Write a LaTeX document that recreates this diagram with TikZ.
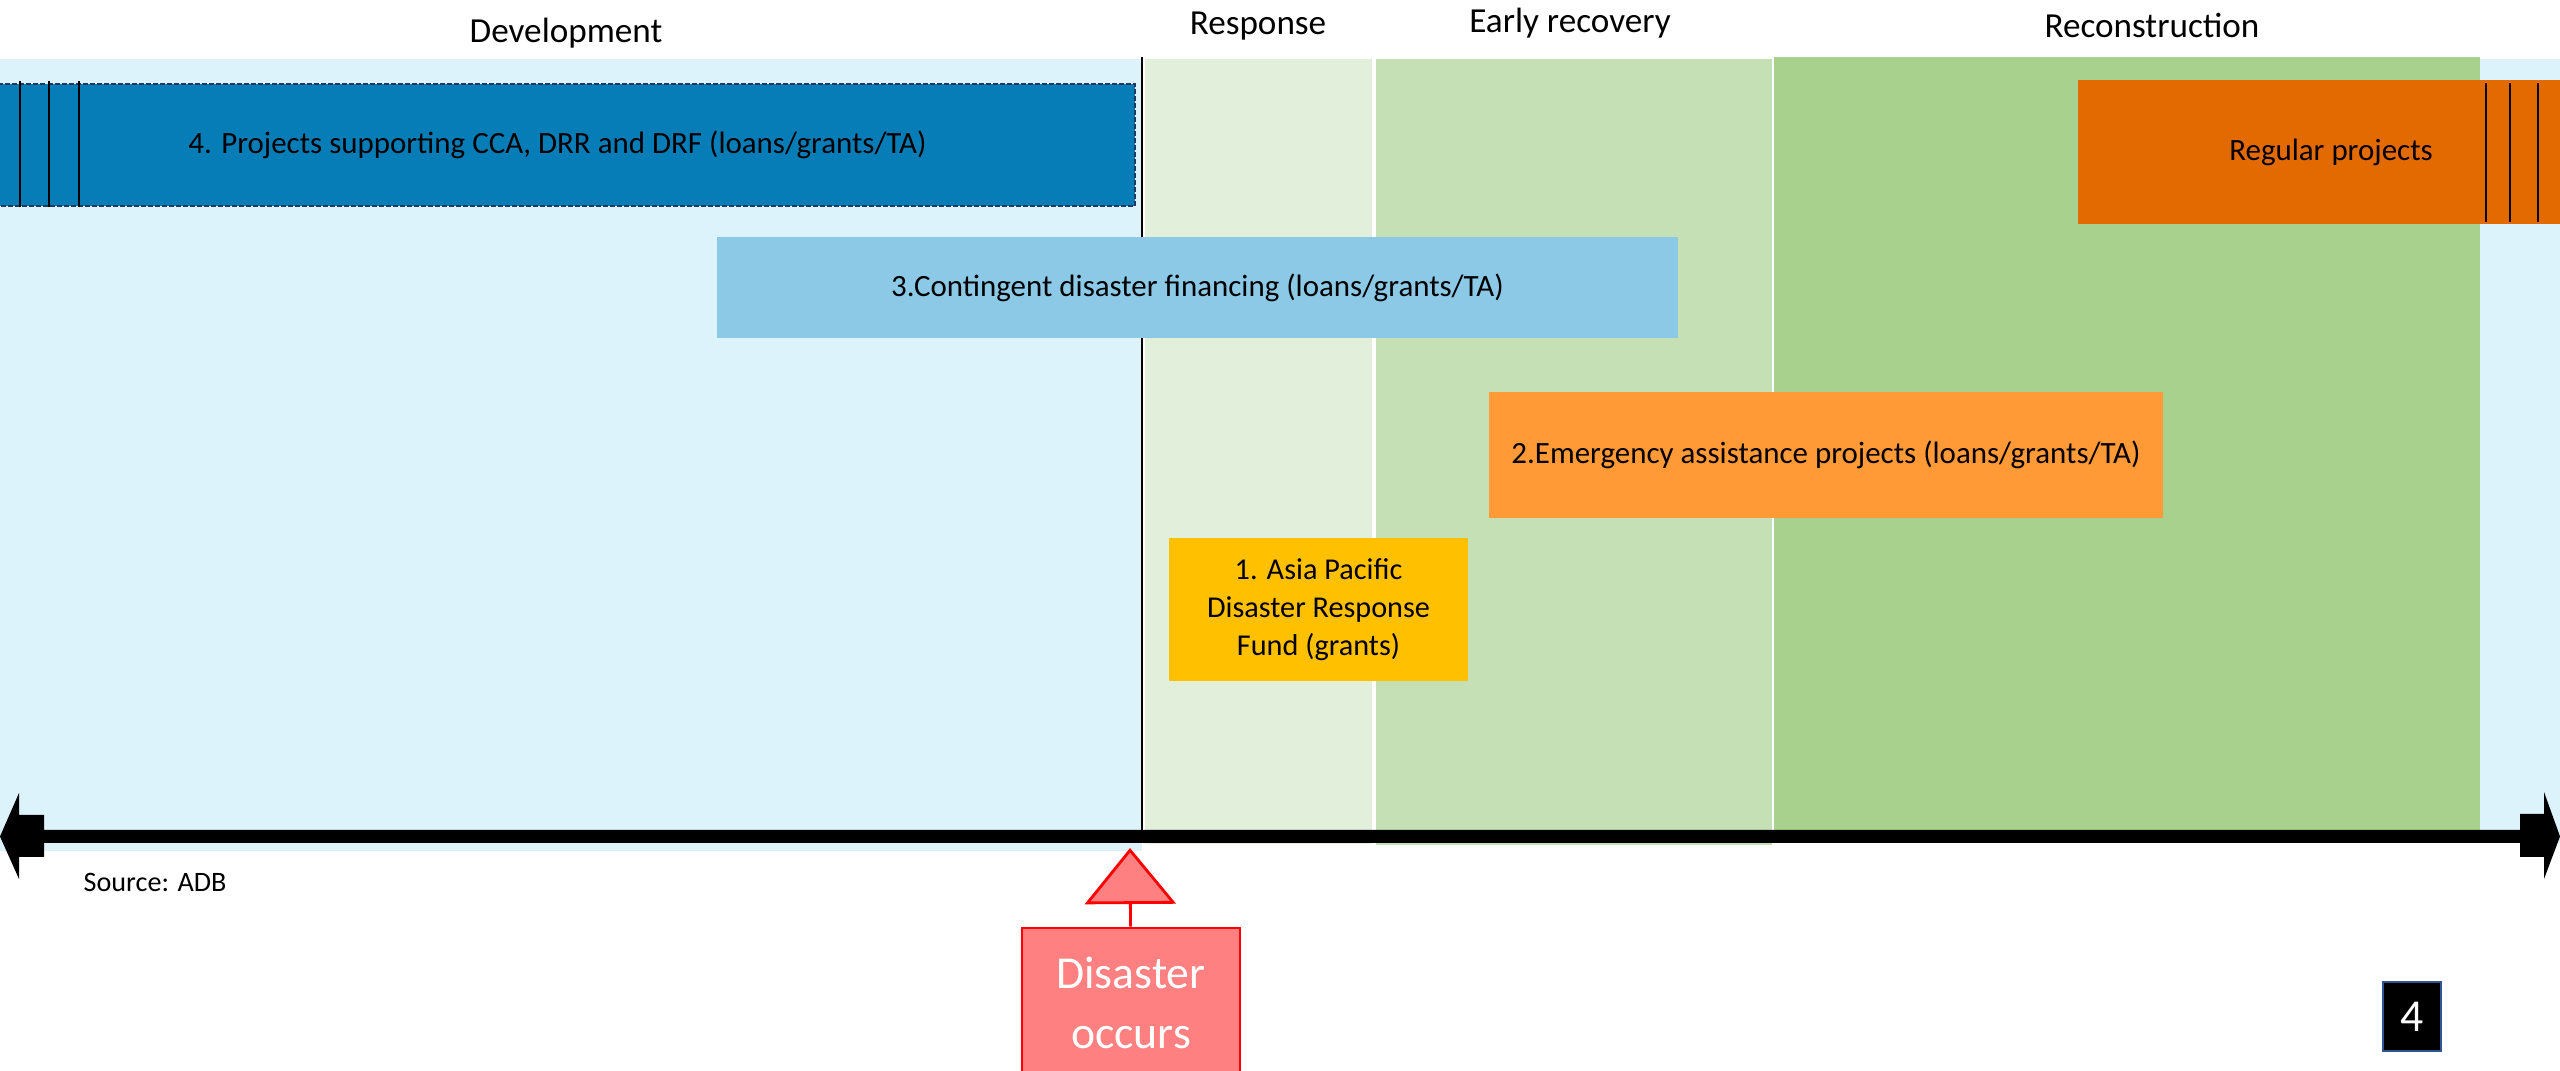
\documentclass[tikz,border=0pt]{standalone}
\usepackage{fontspec}
\setmainfont{Carlito}
\usepackage{tikz}
\usetikzlibrary{arrows.meta}
\definecolor{devbg}{HTML}{DDF3FB}
\definecolor{respbg}{HTML}{E2EFDA}
\definecolor{earlybg}{HTML}{C5E0B4}
\definecolor{recbg}{HTML}{A9D18E}
\definecolor{ccablue}{HTML}{067DB6}
\definecolor{contblue}{HTML}{8CC9E6}
\definecolor{emerorange}{HTML}{FF9A37}
\definecolor{fundyellow}{HTML}{FFC000}
\definecolor{regorange}{HTML}{E36A00}
\definecolor{disred}{HTML}{FF8080}
\definecolor{numblue}{HTML}{2F5597}
\definecolor{navy}{HTML}{1F3864}

\begin{document}
\begin{tikzpicture}[x=0.01cm,y=-0.01cm,
  phase/.style={anchor=base,inner sep=0pt,font=\fontsize{10}{12}\selectfont},
  bar/.style={inner sep=0pt,align=center,font=\fontsize{8.8}{10.8}\selectfont}]
\useasboundingbox (0,0) rectangle (2560,1071);
\fill[white] (0,0) rectangle (2560,1071);
\fill[devbg] (0,59) rectangle (1142,851);
\fill[devbg] (2480,59) rectangle (2560,843);
\fill[respbg] (1145,59) rectangle (1372,844);
\fill[earlybg] (1376,59) rectangle (1772,845);
\fill[recbg] (1774,57) rectangle (2480,843);
\draw[line width=0.5pt] (1142,57) -- (1142,836);
\node[phase] (dev) at (566,43) {Development};
\node[phase] (resp) at (1258,35) {Response};
\node[phase] (early) at (1570,33) {Early recovery};
\node[phase] (rec) at (2152,38) {Reconstruction};
\node[bar,fill=ccablue,draw=navy,line width=0.6pt,dash pattern=on 0.05cm off 0.02cm,minimum width=11.55cm,minimum height=1.22cm] (cca) at (557.5,145) {4. Projects supporting CCA, DRR and DRF (loans/grants/TA)};
\draw[line width=0.5pt] (20,81) -- (20,207);
\draw[line width=0.5pt] (49,81) -- (49,207);
\draw[line width=0.5pt] (79,81) -- (79,207);
\node[bar,fill=contblue,minimum width=9.61cm,minimum height=1.01cm] (cont) at (1197.5,287.5) {3.Contingent disaster financing (loans/grants/TA)};
\node[bar,fill=emerorange,minimum width=6.74cm,minimum height=1.26cm] (emer) at (1826,455) {2.Emergency assistance projects (loans/grants/TA)};
\node[bar,fill=fundyellow,font=\fontsize{8.6}{10.8}\selectfont,minimum width=2.99cm,minimum height=1.43cm] (fund) at (1318.5,609.5) {1. Asia Pacific\\Disaster Response\\Fund (grants)};
\node[bar,fill=regorange,minimum width=5.06cm,minimum height=1.44cm] (reg) at (2331,152) {Regular projects};
\draw[line width=0.5pt] (2486,83) -- (2486,222);
\draw[line width=0.5pt] (2510,83) -- (2510,222);
\draw[line width=0.5pt] (2538,83) -- (2538,222);
\fill[black] (0,836.5) -- (19,793) -- (19,815) -- (44,815) -- (44,830) -- (2520,830) -- (2520,814) -- (2544,814) -- (2544,792) -- (2560,836.5) -- (2544,879) -- (2544,857) -- (2520,857) -- (2520,843) -- (44,843) -- (44,857) -- (19,857) -- (19,879) -- cycle;
\node[anchor=west,inner sep=0pt,font=\fontsize{8}{10}\selectfont] (src) at (83,882) {Source: ADB};
\node[bar,fill=disred,draw=red,line width=0.8pt,text=white,font=\fontsize{13}{17}\selectfont,minimum width=2.18cm,minimum height=1.5cm] (dis) at (1131,1003) {Disaster\\occurs};
\coordinate (hit) at (1130,848);
\draw[red,line width=0.8pt,-{Triangle[length=0.56cm,width=0.91cm,fill=disred]}] (dis) -- (hit);
\node[fill=black,draw=numblue,line width=0.8pt,text=white,inner sep=0pt,font=\fontsize{13}{15}\selectfont,minimum width=0.58cm,minimum height=0.69cm] (pg) at (2412,1016.5) {4};
\end{tikzpicture}
\end{document}
